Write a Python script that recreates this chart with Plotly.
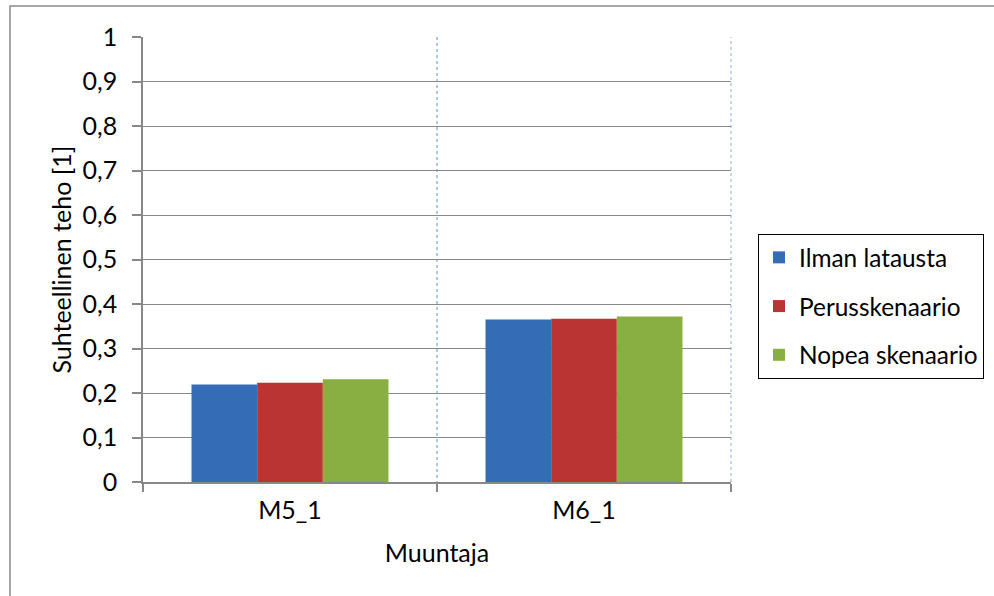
import plotly.graph_objects as go

# Transformer power ratios per charging scenario
categories = ["M5_1", "M6_1"]
series_names = ["Ilman latausta", "Perusskenaario", "Nopea skenaario"]
ilman_latausta = [0.219, 0.365]
perusskenaario = [0.223, 0.367]
nopea_skenaario = [0.231, 0.372]
series_values = [ilman_latausta, perusskenaario, nopea_skenaario]
series_colors = ["#346db6", "#ba3433", "#89ae42"]

FONT = "Lato, Carlito, 'Open Sans', sans-serif"
FS = 25
GRID = "#888888"
CAT_GRID = "#b4c6e7"

fig = go.Figure()
for i, (name, vals, col) in enumerate(zip(series_names, series_values, series_colors)):
    fig.add_trace(go.Bar(
        x=categories, y=vals, name=name,
        marker=dict(color=col, line=dict(width=0)),
        legendgroup=f"g{i}",
    ))

# plot area in pixels
W, H = 994, 596
L, R, T, B = 143, 731, 37, 482

fig.update_layout(
    width=W, height=H,
    margin=dict(l=L, r=W - R, t=T, b=H - B, pad=0, autoexpand=False),
    paper_bgcolor="white", plot_bgcolor="white",
    font=dict(family=FONT, size=FS, color="#000000"),
    separators=", ",
    barmode="group", bargap=0.33, bargroupgap=0,
    showlegend=True,
    legend=dict(
        x=(758 - L) / (R - L), xanchor="left",
        y=(B - 234) / (B - T), yanchor="top",
        bordercolor="#000000", borderwidth=1, bgcolor="white",
        font=dict(family=FONT, size=24.4),
        tracegroupgap=14, traceorder="grouped",
        itemwidth=30,
    ),
    xaxis=dict(
        type="category",
        tickson="boundaries",
        ticks="outside", ticklen=8, tickcolor=GRID, tickwidth=1.5,
        showline=True, linecolor=GRID, linewidth=1.5,
        showgrid=True, gridcolor=CAT_GRID, griddash="dot", gridwidth=1.5,
        tickfont=dict(size=FS),
        ticklabelstandoff=5,
        title=dict(text="Muuntaja", font=dict(size=FS), standoff=22),
        range=[-0.5, 1.5],
    ),
    yaxis=dict(
        range=[0, 1], dtick=0.1, tick0=0,
        ticks="outside", ticklen=9, tickcolor=GRID, tickwidth=1.5,
        showline=True, linecolor=GRID, linewidth=1.5,
        showgrid=True, gridcolor=GRID, gridwidth=1.3,
        zeroline=False,
        tickfont=dict(size=FS),
        ticklabelstandoff=10,
        title=dict(text="Suhteellinen teho [1]", font=dict(size=FS), standoff=4),
    ),
    shapes=[
        # category boundary at the right edge of the plot area
        dict(type="line", xref="x domain", yref="y domain",
             x0=1, x1=1, y0=0, y1=1,
             line=dict(color=CAT_GRID, width=1.5, dash="dot"), layer="below"),
        # chart frame (runs off the right and bottom edges)
        dict(type="rect", xref="paper", yref="paper",
             x0=(10 - L) / (R - L), x1=(W + 20 - L) / (R - L),
             y0=(B - (H + 20)) / (B - T), y1=(B - 6) / (B - T),
             line=dict(color="#8a8a8a", width=1.5), fillcolor="rgba(0,0,0,0)",
             layer="below"),
    ],
)

fig.write_html("out.html")
